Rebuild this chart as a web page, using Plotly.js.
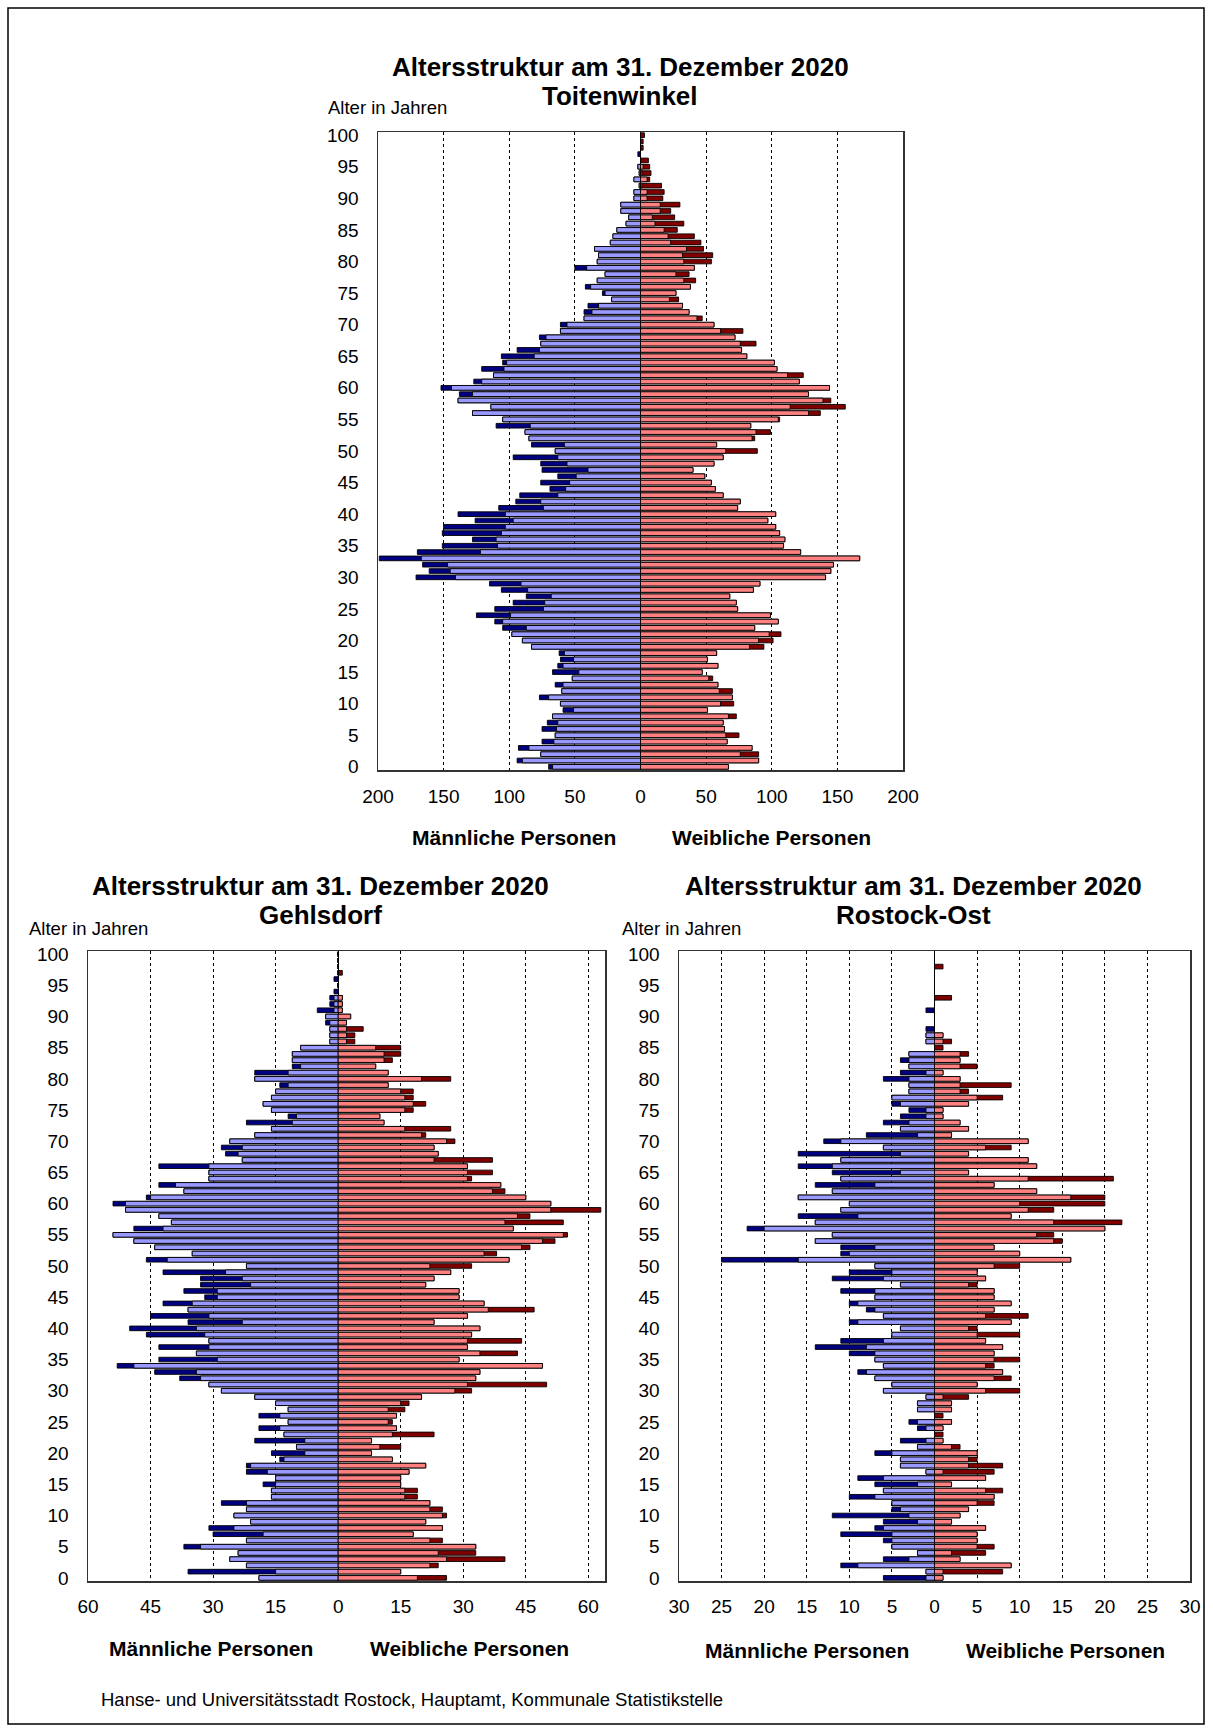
<!DOCTYPE html>
<html><head><meta charset="utf-8">
<script src="https://cdn.plot.ly/plotly-3.0.1.min.js"></script>
<style>html,body{margin:0;padding:0;background:#fff}</style>
</head><body><div id="chart" style="width:1213px;height:1733px"></div>
<script>
// Ages 0..100 (categories)
const ages = [0,1,2,3,4,5,6,7,8,9,10,11,12,13,14,15,16,17,18,19,20,21,22,23,24,25,26,27,28,29,30,31,32,33,34,35,36,37,38,39,40,41,42,43,44,45,46,47,48,49,50,51,52,53,54,55,56,57,58,59,60,61,62,63,64,65,66,67,68,69,70,71,72,73,74,75,76,77,78,79,80,81,82,83,84,85,86,87,88,89,90,91,92,93,94,95,96,97,98,99,100];

// Toitenwinkel
const toitMale = [70,94,76,93,75,65,75,71,67,59, 61,77,60,65,52,67,63,61,62,83, 90,98,105,111,125,111,97,87,106,115, 171,161,166,199,170,151,128,151,150,126, 139,108,95,92,69,76,63,75,76,97, 65,83,85,88,110,105,128,114,139,138, 152,127,112,121,105,106,94,76,77,61, 61,43,43,40,22,29,42,33,27,50, 33,32,35,23,21,18,11,9,15,15, 5,5,1,5,1,2,0,2,0,0, 0];
const toitFemale = [67,90,90,85,66,75,64,63,73,51, 71,70,70,59,55,47,59,51,58,94, 101,107,87,105,99,74,73,68,86,91, 141,145,147,167,122,109,110,106,103,97, 103,74,76,63,57,54,49,40,56,63, 89,58,87,99,84,106,137,156,145,128, 144,121,124,104,102,81,77,88,72,78, 56,47,37,32,29,27,38,42,37,41, 54,55,48,46,41,28,33,26,23,30, 17,18,16,7,8,7,6,0,2,2, 3];

// Gehlsdorf
const gehlMale = [19,36,22,26,24,37,22,30,31,21, 25,22,28,16,16,18,15,22,22,14, 16,10,20,13,19,12,19,12,15,20, 28,31,38,44,53,43,34,43,31,46, 50,36,45,36,42,32,37,33,33,42, 22,46,35,44,49,54,49,40,43,51, 54,46,37,43,31,31,43,23,27,28, 26,20,16,22,12,16,18,16,15,14, 20,20,11,11,11,9,2,2,2,3, 3,5,2,2,1,0,1,0,0,0, 0];
const gehlFemale = [26,15,24,40,33,33,25,18,25,21, 26,25,22,19,19,15,15,17,21,13, 8,15,8,23,14,13,14,16,17,20, 32,50,33,34,49,29,43,31,44,32, 34,23,31,47,35,29,29,21,23,27, 32,41,38,46,52,55,42,54,46,63, 51,45,40,39,32,37,31,37,24,23, 28,21,27,11,10,18,21,18,18,12, 27,12,9,13,15,15,4,4,6,2, 3,1,1,1,0,0,0,1,0,0, 0];

// Rostock-Ost
const ostMale = [6,1,11,6,2,5,6,11,7,6, 12,5,5,10,6,7,9,1,4,4, 7,2,4,0,2,3,0,2,2,1, 6,5,7,9,6,7,10,14,11,5, 4,10,6,8,10,7,11,4,12,10, 7,25,11,11,14,12,22,14,16,11, 10,16,12,14,11,12,16,11,16,6, 13,8,4,6,4,3,5,5,3,3, 6,4,3,4,3,0,1,1,1,0, 0,1,0,0,0,0,0,0,0,0, 0];
const ostFemale = [1,8,9,3,6,7,5,5,6,2, 3,4,7,7,8,2,6,7,8,5, 5,3,1,1,1,2,1,2,2,4, 10,5,9,8,7,10,7,8,6,10, 5,9,11,7,9,7,7,5,6,5, 10,16,10,7,15,14,20,22,9,14, 20,20,12,7,21,4,12,11,4,9, 11,2,4,3,1,1,4,8,4,9, 3,1,5,3,4,1,2,1,0,0, 0,0,0,2,0,0,0,0,1,0, 0];

// Tick values / labels
const ageTicks = [0,5,10,15,20,25,30,35,40,45,50,55,60,65,70,75,80,85,90,95,100];
const toitTickVals = [-200,-150,-100,-50,0,50,100,150,200];
const toitTickText = ['200','150','100','50','0','50','100','150','200'];
const gehlTickVals = [-60,-45,-30,-15,0,15,30,45,60];
const gehlTickText = ['60','45','30','15','0','15','30','45','60'];
const ostTickVals = [-30,-25,-20,-15,-10,-5,0,5,10,15,20,25,30];
const ostTickText = ['30','25','20','15','10','5','0','5','10','15','20','25','30'];

const W = 1213, H = 1733;
const px = x => x / W;
const py = y => 1 - y / H;

const C = {lb:'#9999FF', db:'#000080', lr:'#FF8080', dr:'#800000'};
const FONT = 'Liberation Sans, Arial, Helvetica, sans-serif';

function panel(male, female, xa, ya) {
  const lightVals = male.map((v,i)=>Math.min(v, female[i]));
  const base = {type:'bar', orientation:'h', y:ages, width:0.74, xaxis:xa, yaxis:ya, hoverinfo:'skip'};
  const ln = {color:'#000', width:0.9};
  return [
    Object.assign({}, base, {x: male.map(v=>-v), marker:{color:C.db, line:ln}}),
    Object.assign({}, base, {x: female, marker:{color:C.dr, line:ln}}),
    Object.assign({}, base, {x: lightVals.map(v=>-v), marker:{color:C.lb, line:ln}}),
    Object.assign({}, base, {x: lightVals, marker:{color:C.lr, line:ln}})
  ];
}

const data = [].concat(
  panel(toitMale, toitFemale, 'x', 'y'),
  panel(gehlMale, gehlFemale, 'x2', 'y2'),
  panel(ostMale, ostFemale, 'x3', 'y3')
);

function xax(x0, x1, range, vals, text, anchor, standoff) {
  return {domain:[px(x0), px(x1)], range:range, tickmode:'array', tickvals:vals, ticktext:text,
    showgrid:true, gridcolor:'#000', griddash:'3px,3px', gridwidth:1,
    zeroline:true, zerolinecolor:'#000', zerolinewidth:1,
    showline:true, mirror:true, linecolor:'#333', linewidth:1.5,
    ticks:'', ticklabelstandoff:standoff, tickfont:{size:19, color:'#000'}, anchor:anchor, fixedrange:true};
}
function yax(y0, y1, anchor) {
  return {domain:[py(y1), py(y0)], range:[-0.5, 100.5], tickmode:'array', tickvals:ageTicks,
    showgrid:false, zeroline:false, showline:true, mirror:true, linecolor:'#333', linewidth:1.5,
    ticks:'', ticklabelstandoff:14, tickfont:{size:19, color:'#000'}, anchor:anchor, fixedrange:true};
}

function ann(text, x, y, size, bold, xanchor) {
  return {text: bold ? '<b>'+text+'</b>' : text, x:px(x), y:py(y), xref:'paper', yref:'paper',
    xanchor: xanchor || 'center', yanchor:'middle', showarrow:false,
    font:{size:size, color:'#000', family:FONT}};
}

const T1 = 'Altersstruktur am 31. Dezember 2020';
const annotations = [
  ann(T1, 620, 67, 26, true),
  ann('Toitenwinkel', 620, 96, 26, true),
  ann('Alter in Jahren', 326, 108, 18.5, false, 'left'),
  ann('Männliche Personen', 514, 837, 21, true),
  ann('Weibliche Personen', 771, 837, 21, true),
  ann(T1, 320, 886, 26, true),
  ann('Gehlsdorf', 320, 915, 26, true),
  ann('Alter in Jahren', 27, 928, 18.5, false, 'left'),
  ann(T1, 913, 886, 26, true),
  ann('Rostock-Ost', 913, 915, 26, true),
  ann('Alter in Jahren', 620, 928, 18.5, false, 'left'),
  ann('Männliche Personen', 211, 1648, 21, true),
  ann('Weibliche Personen', 470, 1648, 21, true),
  ann('Männliche Personen', 807, 1650, 21, true),
  ann('Weibliche Personen', 1065, 1650, 21, true),
  ann('Hanse- und Universitätsstadt Rostock, Hauptamt, Kommunale Statistikstelle', 99, 1699, 18.5, false, 'left')
];

const layout = {
  width:W, height:H, margin:{l:0, r:0, t:0, b:0},
  paper_bgcolor:'#fff', plot_bgcolor:'#fff',
  showlegend:false, barmode:'overlay',
  font:{family:FONT, size:19, color:'#000'},
  xaxis: xax(378, 903, [-200, 200], toitTickVals, toitTickText, 'y', 9),
  yaxis: yax(132, 770, 'x'),
  xaxis2: xax(88, 605, [-60, 64], gehlTickVals, gehlTickText, 'y2', 8),
  yaxis2: yax(951, 1581, 'x2'),
  xaxis3: xax(679, 1190, [-30, 30], ostTickVals, ostTickText, 'y3', 8),
  yaxis3: yax(951, 1581, 'x3'),
  annotations: annotations,
  shapes:[{type:'rect', xref:'paper', yref:'paper', x0:px(8), x1:px(1204), y0:py(8), y1:py(1724),
    line:{color:'#000', width:1.5}, fillcolor:'rgba(0,0,0,0)'}]
};

Plotly.newPlot('chart', data, layout, {displayModeBar:false, staticPlot:true});
</script></body></html>
